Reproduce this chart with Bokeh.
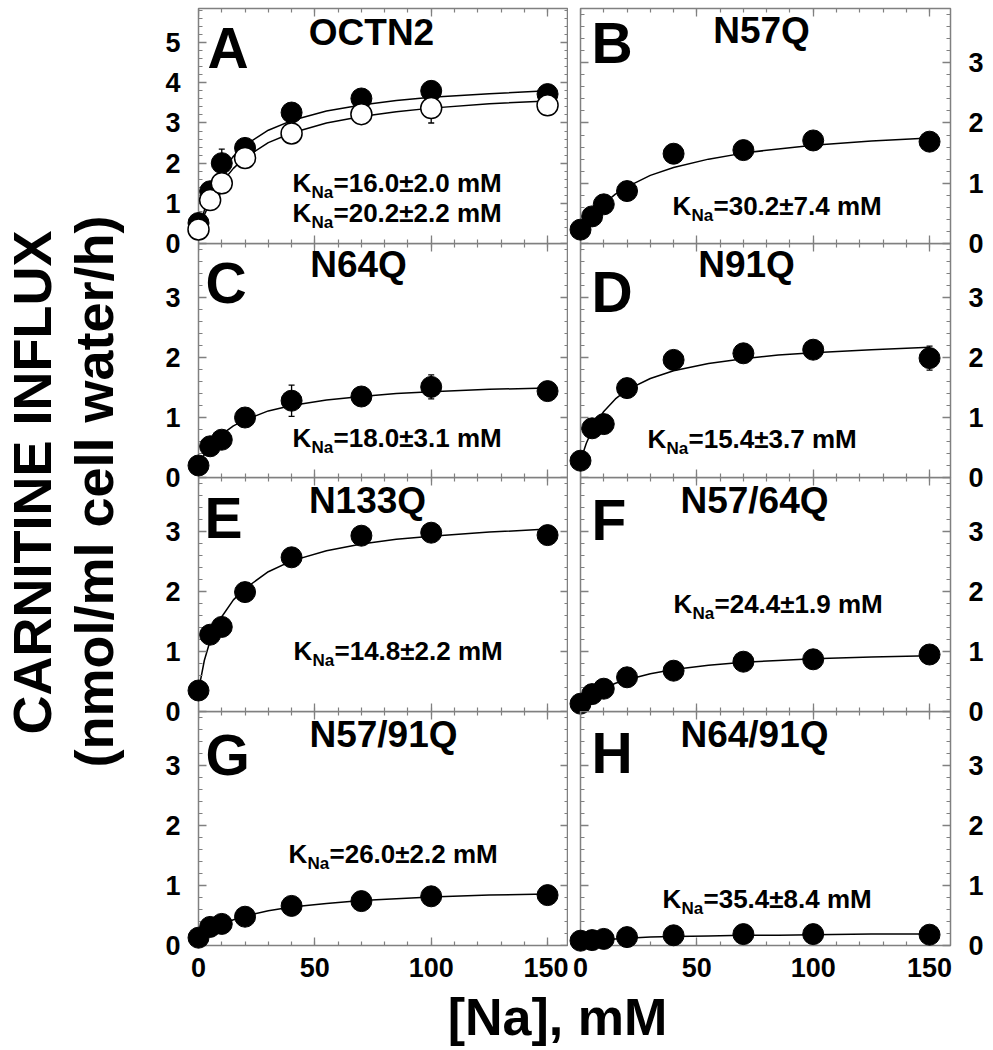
import math
from bokeh.plotting import figure
from bokeh.models import (Range1d, LinearAxis, SingleIntervalTicker, ColumnDataSource,
                          Whisker, TeeHead, Label)
from bokeh.layouts import row, column
from bokeh.embed import file_html
from bokeh.resources import INLINE

# ---------------- data ----------------
na_mM = [0, 5, 10, 20, 40, 70, 100, 150]
fit_na = [0, 2.5, 5, 7.5, 10, 15, 20, 30, 40, 55, 70, 85, 100, 125, 150]

octn2_filled = [0.51, 1.30, 2.00, 2.38, 3.26, 3.61, 3.80, 3.72]
octn2_filled_fit = [0.30, 0.82, 1.22, 1.54, 1.79, 2.17, 2.45, 2.82, 3.06, 3.30, 3.45, 3.56, 3.64, 3.73, 3.80]
octn2_open = [0.35, 1.08, 1.50, 2.13, 2.74, 3.22, 3.37, 3.44]
octn2_open_fit = [0.30, 0.71, 1.03, 1.30, 1.52, 1.87, 2.14, 2.51, 2.75, 3.00, 3.16, 3.28, 3.37, 3.48, 3.55]
n57q = [0.23, 0.45, 0.65, 0.87, 1.49, 1.55, 1.71, 1.69]
n57q_fit = [0.20, 0.34, 0.46, 0.57, 0.66, 0.82, 0.94, 1.13, 1.26, 1.40, 1.50, 1.57, 1.63, 1.70, 1.75]
n64q = [0.20, 0.52, 0.63, 1.00, 1.28, 1.35, 1.51, 1.44]
n64q_fit = [0.20, 0.38, 0.52, 0.63, 0.72, 0.86, 0.96, 1.11, 1.20, 1.29, 1.35, 1.40, 1.43, 1.47, 1.49]
n91q = [0.28, 0.82, 0.89, 1.49, 1.96, 2.07, 2.13, 1.99]
n91q_fit = [0.28, 0.57, 0.79, 0.96, 1.10, 1.31, 1.46, 1.65, 1.78, 1.90, 1.98, 2.04, 2.08, 2.13, 2.17]
n133q = [0.35, 1.28, 1.41, 1.99, 2.57, 2.93, 2.98, 2.94]
n133q_fit = [0.35, 0.85, 1.18, 1.40, 1.58, 1.86, 2.05, 2.33, 2.51, 2.68, 2.79, 2.87, 2.92, 2.99, 3.04]
n57_64q = [0.13, 0.29, 0.38, 0.57, 0.68, 0.83, 0.87, 0.95]
n57_64q_fit = [0.10, 0.19, 0.26, 0.33, 0.38, 0.47, 0.53, 0.63, 0.70, 0.77, 0.82, 0.85, 0.88, 0.91, 0.93]
n57_91q = [0.13, 0.31, 0.36, 0.48, 0.66, 0.74, 0.82, 0.84]
n57_91q_fit = [0.10, 0.18, 0.24, 0.30, 0.35, 0.43, 0.49, 0.58, 0.64, 0.70, 0.75, 0.78, 0.81, 0.84, 0.86]
n64_91q = [0.08, 0.09, 0.11, 0.14, 0.17, 0.19, 0.19, 0.18]
n64_91q_fit = [0.07, 0.08, 0.09, 0.10, 0.10, 0.11, 0.12, 0.14, 0.15, 0.16, 0.17, 0.17, 0.18, 0.19, 0.19]

# visible error bars: (panel, x, y, sem)
err_panel = ["A", "A", "C", "C", "D", "E"]
err_x = [10, 100, 40, 100, 150, 150]
err_y = [2.00, 3.37, 1.28, 1.51, 1.99, 2.94]
err_sem = [0.35, 0.37, 0.26, 0.20, 0.20, 0.15]

panel_letters = ["A", "B", "C", "D", "E", "F", "G", "H"]
panel_titles = ["OCTN2", "N57Q", "N64Q", "N91Q", "N133Q", "N57/64Q", "N57/91Q", "N64/91Q"]
panel_k = [["=16.0\u00b12.0 mM", "=20.2\u00b12.2 mM"], ["=30.2\u00b17.4 mM"], ["=18.0\u00b13.1 mM"],
           ["=15.4\u00b13.7 mM"], ["=14.8\u00b12.2 mM"], ["=24.4\u00b11.9 mM"],
           ["=26.0\u00b12.2 mM"], ["=35.4\u00b18.4 mM"]]
panel_series = {
    "A": [(octn2_filled, octn2_filled_fit, "filled"), (octn2_open, octn2_open_fit, "open")],
    "B": [(n57q, n57q_fit, "filled")],
    "C": [(n64q, n64q_fit, "filled")],
    "D": [(n91q, n91q_fit, "filled")],
    "E": [(n133q, n133q_fit, "filled")],
    "F": [(n57_64q, n57_64q_fit, "filled")],
    "G": [(n57_91q, n57_91q_fit, "filled")],
    "H": [(n64_91q, n64_91q_fit, "filled")],
}

# ---------------- layout / style ----------------
FONT = "Liberation Sans"
GRAY = "#808080"
XMAX = 159.0
FRAME_W = 370
TOP_M = 8
LEFT_B, GAP, RIGHT_B, BOT_B = 60, 12, 40, 44
OVERLAP = 22          # rows 1-3 overlap the transparent bottom strip of the row above
YLAB_W = 138
BASE_SHIFT = 0.36     # empirical: rendered alphabetic baseline sits this many em below the anchor

# pixel offsets from frame top-left: letter (x, baseline), title (center, baseline), K lines (x, baseline)
text_pos = {
    "A": dict(letter=(9, 60), title=(173, 37), k=[(94, 184), (94, 214)]),
    "B": dict(letter=(11, 55), title=(181, 35), k=[(92, 207)]),
    "C": dict(letter=(7, 60), title=(160, 34), k=[(94, 204)]),
    "D": dict(letter=(11, 69), title=(166, 34), k=[(67, 205)]),
    "E": dict(letter=(6, 61), title=(169, 36), k=[(95, 183)]),
    "F": dict(letter=(11, 63), title=(174, 36), k=[(93, 136)]),
    "G": dict(letter=(7, 64), title=(185, 36), k=[(90, 152)]),
    "H": dict(letter=(11, 62), title=(174, 36), k=[(82, 197)]),
}


def make_axis(fixed, dim, labeled):
    interval = 1 if dim == "y" else 50
    ax = LinearAxis(ticker=SingleIntervalTicker(interval=interval, num_minor_ticks=5),
                    axis_line_color=None,
                    major_tick_in=8, major_tick_out=0, minor_tick_in=4, minor_tick_out=0,
                    major_tick_line_color=GRAY, minor_tick_line_color=GRAY,
                    major_tick_line_width=1.3, minor_tick_line_width=1.2,
                    major_label_text_font=FONT, major_label_text_font_style="bold",
                    major_label_text_font_size="27px", major_label_text_color="black",
                    major_label_standoff=18 if dim == "y" else 12)
    if not labeled:
        ax.fixed_location = fixed
        ax.major_label_text_color = None
    return ax


def add_text(p, x, y, text, fs, align="left", angle=0.0):
    p.add_layout(Label(x=x, y=y, text=text, text_font=FONT, text_font_style="bold",
                       text_font_size=f"{fs}px", text_align=align, text_baseline="alphabetic",
                       text_color="black", angle=angle))


def panel(idx):
    letter = panel_letters[idx]
    r, c = divmod(idx, 2)
    ymax = 5.85 if idx == 0 else 3.9
    frame_h = 235 if r == 0 else 234
    bt = TOP_M if r == 0 else 0
    bb = BOT_B if r == 3 else OVERLAP
    if c == 0:
        w, bl, br = LEFT_B + FRAME_W, LEFT_B, 0
    else:
        w, bl, br = GAP + FRAME_W + RIGHT_B, GAP, RIGHT_B
    p = figure(width=w, height=frame_h + bb + bt, x_range=Range1d(0, XMAX), y_range=Range1d(0, ymax),
               x_axis_location=None, y_axis_location=None, output_backend="svg",
               toolbar_location=None, min_border_left=bl, min_border_right=br,
               min_border_top=bt, min_border_bottom=bb)
    p.xgrid.grid_line_color = None
    p.ygrid.grid_line_color = None
    p.outline_line_color = GRAY
    p.outline_line_width = 1.5
    p.background_fill_color = None
    p.border_fill_color = None

    # axes on all four sides, ticks pointing inward
    p.add_layout(make_axis(0, "y", c == 0), "left")
    p.add_layout(make_axis(XMAX, "y", c == 1), "right")
    p.add_layout(make_axis(0, "x", r == 3), "below")
    p.add_layout(make_axis(ymax, "x", False), "above")

    sx = XMAX / FRAME_W
    sy = ymax / frame_h

    def txt(dx, dy_base, text, fs, align="left"):
        dy = dy_base - BASE_SHIFT * fs
        add_text(p, dx * sx, ymax - dy * sy, text, fs, align)

    # error bars
    ex = [x for pn, x in zip(err_panel, err_x) if pn == letter]
    if ex:
        ey = [y for pn, y in zip(err_panel, err_y) if pn == letter]
        es = [s for pn, s in zip(err_panel, err_sem) if pn == letter]
        src = ColumnDataSource(dict(x=ex, lo=[a - b for a, b in zip(ey, es)],
                                    hi=[a + b for a, b in zip(ey, es)]))
        p.add_layout(Whisker(source=src, base="x", lower="lo", upper="hi",
                             line_color="black", line_width=1.3,
                             upper_head=TeeHead(size=6, line_color="black", line_width=1.3),
                             lower_head=TeeHead(size=6, line_color="black", line_width=1.3)))

    for vals, fit, kind in panel_series[letter]:
        p.line(fit_na, fit, line_color="black", line_width=1.5)
    for vals, fit, kind in panel_series[letter]:
        if kind == "filled":
            p.scatter(na_mM, vals, marker="circle", size=21, fill_color="black",
                      line_color="black", level="overlay")
        else:
            p.scatter(na_mM, vals, marker="circle", size=21, fill_color="white",
                      line_color="black", line_width=1.5, level="overlay")

    tp = text_pos[letter]
    txt(tp["letter"][0], tp["letter"][1], letter, 57)
    txt(tp["title"][0], tp["title"][1], panel_titles[idx], 37, "center")
    for (kx, ky), rest in zip(tp["k"], panel_k[idx]):
        txt(kx, ky, "K", 26)
        txt(kx + 19, ky + 6, "Na", 17)
        txt(kx + 41, ky, rest, 26)
    return p


figs = [panel(i) for i in range(8)]
col_h = TOP_M + 235 + 234 * 3 + BOT_B
total_w = YLAB_W + LEFT_B + FRAME_W + GAP + FRAME_W + RIGHT_B


def blank(w, h):
    f = figure(width=w, height=h, x_range=Range1d(0, w), y_range=Range1d(0, h),
               x_axis_location=None, y_axis_location=None, output_backend="svg",
               toolbar_location=None, min_border=0)
    f.xgrid.grid_line_color = None
    f.ygrid.grid_line_color = None
    f.outline_line_color = None
    return f


# page-pixel placement of the two rotated lines (baseline x, centre y)
ylab = blank(YLAB_W, col_h)
add_text(ylab, 51 - BASE_SHIFT * 54, col_h - 482, "CARNITINE INFLUX", 54, "center", math.pi / 2)
add_text(ylab, 113 - BASE_SHIFT * 54, col_h - 491, "(nmol/ml cell water/h)", 54, "center", math.pi / 2)

XLAB_H = 1049 - col_h
xlab = blank(total_w, XLAB_H)
add_text(xlab, 557, XLAB_H - ((1035 - col_h) - BASE_SHIFT * 52), "[Na], mM", 52, "center")

rows = []
for r in range(4):
    m = (0, 0, -OVERLAP, 0) if r < 3 else (0, 0, 0, 0)
    rows.append(row(figs[2 * r], figs[2 * r + 1], spacing=0, margin=m))
grid = column(*rows, spacing=0)
layout = column(row(ylab, grid, spacing=0), xlab, spacing=0)

open("out.html", "w").write(file_html(layout, INLINE))
